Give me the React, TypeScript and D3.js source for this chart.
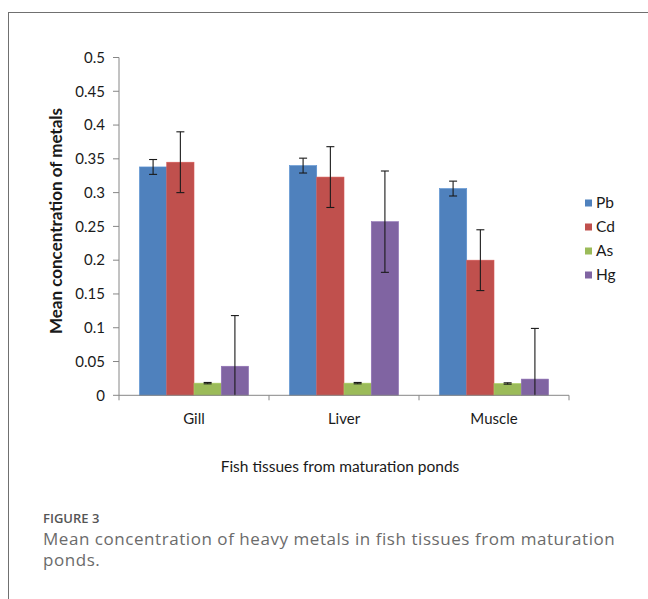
import React from "react";
import * as d3 from "d3";

const categories = ["Gill", "Liver", "Muscle"];
const seriesNames = ["Pb", "Cd", "As", "Hg"];
const pbValues = [0.338, 0.34, 0.306];
const cdValues = [0.345, 0.323, 0.2];
const asValues = [0.018, 0.018, 0.0175];
const hgValues = [0.043, 0.257, 0.024];
const pbErr = [0.011, 0.011, 0.011];
const cdErr = [0.045, 0.045, 0.045];
const asErr = [0.001, 0.001, 0.001];
const hgErr = [0.075, 0.075, 0.075];
const yTicks = [0, 0.05, 0.1, 0.15, 0.2, 0.25, 0.3, 0.35, 0.4, 0.45, 0.5];
const colors = ["#4F81BD", "#C0504D", "#9BBB59", "#8064A2"];

const seriesValues = [pbValues, cdValues, asValues, hgValues];
const seriesErrs = [pbErr, cdErr, asErr, hgErr];

const W = 648;
const H = 599;
const FONT = "Lato, 'Open Sans', sans-serif";

export default function App() {
  const plotLeft = 119;
  const plotRight = 569;
  const plotTop = 57.5;
  const plotBottom = 395.3;

  const x0 = d3.scaleBand<string>().domain(categories).range([plotLeft, plotRight]).paddingInner(0).paddingOuter(0);
  const groupW = x0.bandwidth() * (4 / 5.5);
  const x1 = d3.scaleBand<string>().domain(seriesNames).range([0, groupW]);
  const y = d3.scaleLinear().domain([0, 0.5]).range([plotBottom, plotTop]);
  const axisColor = "#868686";

  const bars: React.ReactNode[] = [];
  const errs: React.ReactNode[] = [];
  categories.forEach((c, ci) => {
    const gx = (x0(c) as number) + (x0.bandwidth() - groupW) / 2;
    seriesNames.forEach((s, si) => {
      const v = seriesValues[si][ci];
      const e = seriesErrs[si][ci];
      const bx = gx + (x1(s) as number);
      const bw = x1.bandwidth();
      bars.push(
        <rect key={`b-${c}-${s}`} x={bx} y={y(v)} width={bw} height={y(0) - y(v)} fill={colors[si]} stroke={d3.color(colors[si])!.brighter(0.3).toString()} strokeWidth={0.6} />
      );
      const cx = bx + bw / 2;
      const hi = v + e;
      const lo = Math.max(0, v - e);
      const cap = 4;
      errs.push(
        <g key={`e-${c}-${s}`} stroke="#1a1a1a" strokeWidth={1.1}>
          <line x1={cx} x2={cx} y1={y(hi)} y2={y(lo)} />
          <line x1={cx - cap} x2={cx + cap} y1={y(hi)} y2={y(hi)} />
          {v - e > 0 && <line x1={cx - cap} x2={cx + cap} y1={y(lo)} y2={y(lo)} />}
        </g>
      );
    });
  });

  const boundaries = [plotLeft, ...categories.map((c) => (x0(c) as number) + x0.bandwidth())];

  return (
    <svg width={W} height={H} style={{ position: "absolute", left: 0, top: 0, background: "#fff" }} fontFamily={FONT}>
      <rect x={0} y={0} width={W} height={H} fill="#fff" />
      <line x1={8.5} x2={8.5} y1={12} y2={H} stroke="#707070" strokeWidth={1} />
      <line x1={8} x2={W} y1={12.5} y2={12.5} stroke="#707070" strokeWidth={1} />

      {/* y axis */}
      <line x1={plotLeft} x2={plotLeft} y1={plotTop} y2={plotBottom} stroke={axisColor} strokeWidth={1} />
      {yTicks.map((t) => (
        <g key={`yt-${t}`}>
          <line x1={plotLeft - 6} x2={plotLeft} y1={y(t)} y2={y(t)} stroke={axisColor} strokeWidth={1} />
          <text x={plotLeft - 14} y={y(t)} dy="0.35em" textAnchor="end" fontSize={15} fill="#1a1a1a">
            {d3.format("")(t)}
          </text>
        </g>
      ))}

      {bars}
      {errs}

      {/* x axis */}
      <line x1={plotLeft} x2={plotRight} y1={plotBottom} y2={plotBottom} stroke={axisColor} strokeWidth={1} />
      {boundaries.map((bx, i) => (
        <line key={`xt-${i}`} x1={bx} x2={bx} y1={plotBottom} y2={plotBottom + 5} stroke={axisColor} strokeWidth={1} />
      ))}
      {categories.map((c) => (
        <text key={`xl-${c}`} x={(x0(c) as number) + x0.bandwidth() / 2} y={419} dy="0.35em" textAnchor="middle" fontSize={15} fill="#1a1a1a">
          {c}
        </text>
      ))}

      {/* axis titles */}
      <text transform={`translate(62,221) rotate(-90)`} textAnchor="middle" fontSize={17} fontWeight={700} fill="#1a1a1a">
        Mean concentration of metals
      </text>
      <text x={340} y={467} dy="0.35em" textAnchor="middle" fontSize={15.5} fill="#1a1a1a">
        Fish tissues from maturation ponds
      </text>

      {/* legend */}
      {seriesNames.map((s, i) => (
        <g key={`lg-${s}`} transform={`translate(585,${203 + i * 24})`}>
          <rect x={0} y={-3.5} width={7} height={7} fill={colors[i]} />
          <text x={11} y={0} dy="0.35em" fontSize={15.5} fill="#1a1a1a">
            {s}
          </text>
        </g>
      ))}

      {/* caption */}
      <text x={43} y={522.5} fontSize={13} fontWeight={600} fill="#555" fontFamily="'Open Sans', sans-serif">
        FIGURE 3
      </text>
      <text x={43} y={545} fontSize={17} fill="#6b6b6b" fontFamily="'Open Sans', sans-serif" letterSpacing={0.55}>
        Mean concentration of heavy metals in fish tissues from maturation
      </text>
      <text x={43} y={566} fontSize={17} fill="#6b6b6b" fontFamily="'Open Sans', sans-serif" letterSpacing={0.55}>
        ponds.
      </text>
    </svg>
  );
}
